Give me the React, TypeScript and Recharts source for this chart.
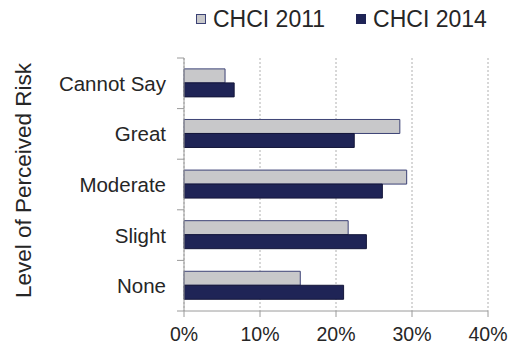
import React from "react";
import {
  BarChart,
  Bar,
  XAxis,
  YAxis,
  CartesianGrid,
  Legend,
} from "recharts";

const riskLevels = ["Cannot Say", "Great", "Moderate", "Slight", "None"];
const chci2011 = [0.054, 0.284, 0.293, 0.216, 0.153];
const chci2014 = [0.066, 0.224, 0.261, 0.24, 0.21];
const xTicks = [0, 0.1, 0.2, 0.3, 0.4];

const FONT = "'Liberation Sans', Arial, sans-serif";
const TEXT = "#262626";
const AXIS = "#9a9a9a";
const TICK_SIZE = 7;
const TICK_MARGIN = 11;

const data = riskLevels.map((name, i) => ({
  name,
  y2011: chci2011[i],
  y2014: chci2014[i],
}));

const legendItems = [
  { label: "CHCI 2011", fill: "#c8c8ca", stroke: "#3c4275" },
  { label: "CHCI 2014", fill: "#1f2456", stroke: "#1f2456" },
];

// legend is 26px tall, plot top should land at 58
const renderLegend = () => (
  <div
    style={{
      display: "flex",
      paddingLeft: 196,
      fontFamily: FONT,
      whiteSpace: "nowrap",
      height: 26,
    }}
  >
    {legendItems.map((it) => (
      <div
        key={it.label}
        style={{ display: "flex", alignItems: "center", marginRight: 31 }}
      >
        <div
          style={{
            width: 8,
            height: 8,
            background: it.fill,
            border: `1px solid ${it.stroke}`,
            marginRight: 7,
          }}
        />
        <span style={{ fontSize: 23, color: TEXT, lineHeight: "26px" }}>
          {it.label}
        </span>
      </div>
    ))}
  </div>
);

// category label + tick marks on the band edges (like excel)
const CatTick = (props: any) => {
  const { x, y, payload, index, visibleTicksCount } = props;
  const half = payload.offset || 0;
  const x1 = x + TICK_MARGIN;
  const x2 = x1 + TICK_SIZE;
  return (
    <g>
      <line x1={x1} x2={x2} y1={y - half} y2={y - half} stroke={AXIS} />
      {index === visibleTicksCount - 1 && (
        <line x1={x1} x2={x2} y1={y + half} y2={y + half} stroke={AXIS} />
      )}
      <text
        x={x}
        y={y}
        textAnchor="end"
        dominantBaseline="central"
        fontSize={20.5}
        fontFamily={FONT}
        fill={TEXT}
      >
        {payload.value}
      </text>
    </g>
  );
};

const yLabel = (props: any) => {
  const vb = props.viewBox;
  const cx = 23;
  const cy = vb.y + vb.height / 2 - 4;
  return (
    <text
      x={cx}
      y={cy}
      transform={`rotate(-90 ${cx} ${cy})`}
      textAnchor="middle"
      dominantBaseline="central"
      fontSize={22.5}
      fontFamily={FONT}
      fill={TEXT}
    >
      Level of Perceived Risk
    </text>
  );
};

export default function App() {
  return (
    <div style={{ position: "absolute", left: 0, top: 0 }}>
      <BarChart
        width={515}
        height={347}
        data={data}
        layout="vertical"
        margin={{ top: 32, right: 27, left: 0, bottom: 0 }}
        barCategoryGap="21.5%"
        barGap={0}
      >
        <CartesianGrid
          horizontal={false}
          stroke="#b0b0b0"
          strokeDasharray="2 2"
        />
        <XAxis
          type="number"
          domain={[0, 0.4]}
          ticks={xTicks}
          tickFormatter={(v: number) => `${Math.round(v * 100)}%`}
          height={36}
          stroke={AXIS}
          tickSize={6}
          tickMargin={10}
          tick={{ fontSize: 19.5, fill: TEXT, fontFamily: FONT }}
          interval={0}
        />
        <YAxis
          type="category"
          dataKey="name"
          width={184}
          stroke={AXIS}
          tickLine={false}
          tickSize={TICK_SIZE}
          tickMargin={TICK_MARGIN}
          tick={<CatTick />}
          interval={0}
          label={{ content: yLabel }}
        />
        <Legend
          verticalAlign="top"
          content={renderLegend}
          wrapperStyle={{ top: 6, left: 0, width: 515 }}
        />
        <Bar
          dataKey="y2011"
          name="CHCI 2011"
          fill="#c8c8ca"
          stroke="#3c4275"
          strokeWidth={1}
          isAnimationActive={false}
        />
        <Bar
          dataKey="y2014"
          name="CHCI 2014"
          fill="#1f2456"
          stroke="#15173a"
          strokeWidth={1}
          isAnimationActive={false}
        />
      </BarChart>
    </div>
  );
}
